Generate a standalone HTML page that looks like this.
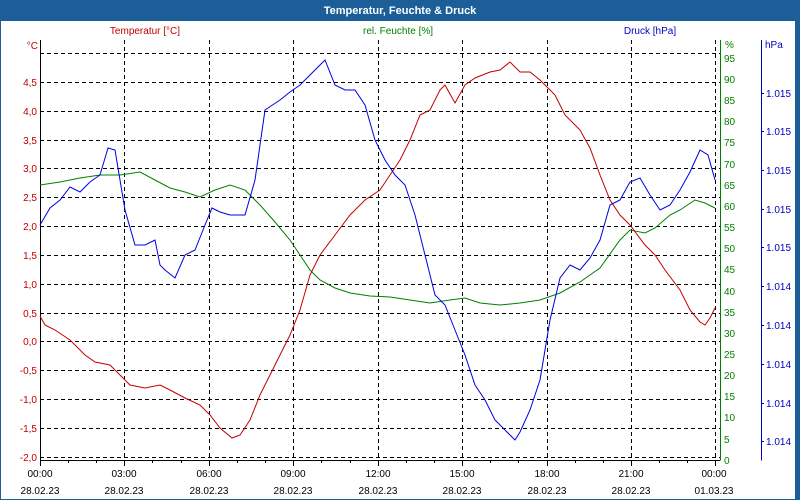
<!DOCTYPE html>
<html><head><meta charset="utf-8"><style>
html,body{margin:0;padding:0;width:800px;height:500px;overflow:hidden;background:#1c5f98;}
svg{display:block;font-family:"Liberation Sans",sans-serif;}
</style></head><body>
<svg width="800" height="500" xmlns="http://www.w3.org/2000/svg">
<rect x="0" y="0" width="800" height="500" fill="#1c5f98"/>
<text x="400" y="14" fill="#fff" font-size="11" font-weight="bold" text-anchor="middle">Temperatur, Feuchte &amp; Druck</text>
<rect x="1" y="21" width="794" height="478" fill="#fff"/>
<g font-size="10">
<text x="145" y="34" fill="#c00000" text-anchor="middle">Temperatur [°C]</text>
<text x="398" y="34" fill="#008000" text-anchor="middle">rel. Feuchte [%]</text>
<text x="650" y="34" fill="#0000c0" text-anchor="middle">Druck [hPa]</text>
</g>
<g stroke="#000" stroke-dasharray="4,3" stroke-width="1">
<path d="M40 53.5H720M40 82.5H720M40 111.5H720M40 140.5H720M40 168.5H720M40 197.5H720M40 226.5H720M40 255.5H720M40 284.5H720M40 313.5H720M40 341.5H720M40 370.5H720M40 399.5H720M40 428.5H720M40 457.5H720"/>
<path d="M124.5 40V460M209.5 40V460M293.5 40V460M378.5 40V460M462.5 40V460M547.5 40V460M631.5 40V460M715.5 40V460"/>
</g>
<path d="M40.5 40V460.5H720" stroke="#000" fill="none"/>
<path d="M720.5 40V460.5" stroke="#008000" fill="none"/>
<path d="M761.5 40V460.5" stroke="#0000c0" fill="none"/>
<g stroke="#000">
<path d="M40.5 460V466M124.5 460V466M209.5 460V466M293.5 460V466M378.5 460V466M462.5 460V466M547.5 460V466M631.5 460V466M715.5 460V466"/>
<path d="M68.5 460V463M96.5 460V463M152.5 460V463M181.5 460V463M237.5 460V463M265.5 460V463M321.5 460V463M350.5 460V463M406.5 460V463M434.5 460V463M490.5 460V463M518.5 460V463M575.5 460V463M603.5 460V463M659.5 460V463M687.5 460V463"/>
</g>
<g fill="#c00000" font-size="10" text-anchor="end">
<text x="38" y="49">°C</text>
<text x="37" y="86">4,5</text><text x="37" y="115">4,0</text><text x="37" y="144">3,5</text><text x="37" y="172">3,0</text><text x="37" y="201">2,5</text><text x="37" y="230">2,0</text><text x="37" y="259">1,5</text><text x="37" y="288">1,0</text><text x="37" y="317">0,5</text><text x="37" y="345">0,0</text><text x="37" y="374">-0,5</text><text x="37" y="403">-1,0</text><text x="37" y="432">-1,5</text><text x="37" y="461">-2,0</text>
</g>
<g fill="#008000" font-size="10">
<text x="725" y="48">%</text>
<text x="724" y="62">95</text><text x="724" y="83">90</text><text x="724" y="104">85</text><text x="724" y="125">80</text><text x="724" y="146">75</text><text x="724" y="168">70</text><text x="724" y="189">65</text><text x="724" y="210">60</text><text x="724" y="231">55</text><text x="724" y="252">50</text><text x="724" y="273">45</text><text x="724" y="295">40</text><text x="724" y="316">35</text><text x="724" y="337">30</text><text x="724" y="358">25</text><text x="724" y="379">20</text><text x="724" y="400">15</text><text x="724" y="421">10</text><text x="724" y="443">5</text><text x="724" y="464">0</text>
</g>
<g fill="#0000c0" font-size="10">
<text x="765" y="48">hPa</text>
<g stroke="#0000c0"><path d="M761 93.5h3M761 131.5h3M761 170.5h3M761 209.5h3M761 247.5h3M761 286.5h3M761 325.5h3M761 364.5h3M761 403.5h3M761 441.5h3"/></g>
<text x="766" y="97">1.015</text><text x="766" y="135">1.015</text><text x="766" y="174">1.015</text><text x="766" y="213">1.015</text><text x="766" y="251">1.015</text><text x="766" y="290">1.014</text><text x="766" y="329">1.014</text><text x="766" y="368">1.014</text><text x="766" y="407">1.014</text><text x="766" y="445">1.014</text>
</g>
<g font-size="10" fill="#000" text-anchor="middle">
<text x="40" y="477">00:00</text><text x="124" y="477">03:00</text><text x="209" y="477">06:00</text><text x="293" y="477">09:00</text><text x="378" y="477">12:00</text><text x="462" y="477">15:00</text><text x="547" y="477">18:00</text><text x="631" y="477">21:00</text><text x="714" y="477">00:00</text>
<text x="40" y="494">28.02.23</text><text x="124" y="494">28.02.23</text><text x="209" y="494">28.02.23</text><text x="293" y="494">28.02.23</text><text x="378" y="494">28.02.23</text><text x="462" y="494">28.02.23</text><text x="547" y="494">28.02.23</text><text x="631" y="494">28.02.23</text><text x="714" y="494">01.03.23</text>
</g>
<polyline fill="none" stroke="#008000" stroke-width="1" points="40,185 60,182 80,178 100,175 120,175 140,172 155,180 170,188 185,192 200,197 215,190 230,185 245,190 260,205 275,222 290,240 300,255 310,270 320,280 335,288 350,293 370,296 390,297 410,300 430,303 450,300 465,298 480,303 500,305 520,303 540,300 560,293 580,282 600,268 620,240 630,230 645,233 655,228 670,215 680,210 695,200 705,203 715,208"/>
<polyline fill="none" stroke="#c00000" stroke-width="1" points="40,316 45,325 55,330 70,340 85,355 95,362 110,365 120,375 130,385 145,388 160,385 170,390 185,398 200,405 210,415 220,428 232,438 240,435 250,420 260,395 275,365 290,335 300,310 310,275 320,255 335,235 350,215 365,200 380,190 390,175 400,160 410,140 420,115 430,110 440,90 445,85 455,103 465,85 475,78 490,72 500,70 510,62 520,72 530,72 540,80 555,95 565,115 580,130 590,148 600,175 610,200 620,215 630,225 645,245 655,255 665,270 680,290 690,310 700,322 705,325 710,318 715,308"/>
<polyline fill="none" stroke="#0000e0" stroke-width="1" points="40,225 50,208 60,200 70,187 80,192 90,182 100,175 108,148 115,150 125,210 135,245 145,245 155,240 160,265 165,270 175,278 185,255 195,250 205,225 212,208 220,212 230,215 245,215 255,180 265,110 280,100 290,92 300,85 305,80 315,70 325,60 335,85 345,90 355,90 365,105 375,140 385,160 395,175 405,185 415,215 425,255 435,295 445,305 455,330 465,355 475,385 485,400 495,420 505,430 515,440 520,432 530,410 540,380 550,320 560,278 570,265 580,270 590,258 600,240 610,205 620,200 630,182 640,178 650,195 660,210 670,205 680,190 690,172 700,150 708,155 715,180"/>
</svg>
</body></html>
